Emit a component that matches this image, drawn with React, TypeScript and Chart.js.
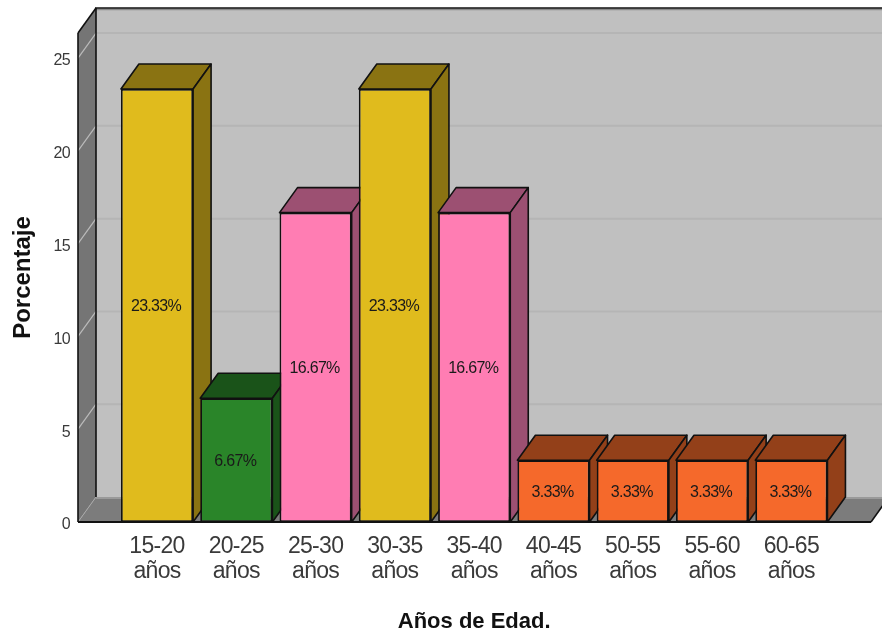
import React, { useEffect, useRef } from "react";
import { Chart, registerables } from "chart.js";

Chart.register(...registerables);

const ageGroups = [
  ["15-20", "años"],
  ["20-25", "años"],
  ["25-30", "años"],
  ["30-35", "años"],
  ["35-40", "años"],
  ["40-45", "años"],
  ["50-55", "años"],
  ["55-60", "años"],
  ["60-65", "años"],
];
const percentages = [23.33, 6.67, 16.67, 23.33, 16.67, 3.33, 3.33, 3.33, 3.33];
const faceColors = ["#E0BB1D", "#2A8529", "#FF7DB3", "#E0BB1D", "#FF7DB3", "#F5692B", "#F5692B", "#F5692B", "#F5692B"];
const shadeColors = ["#8A7312", "#1A5319", "#9C5072", "#8A7312", "#9C5072", "#934019", "#934019", "#934019", "#934019"];

// Oblique projection used for the walls and the bar depth.
const DEPTH_X = 18;
const DEPTH_Y = 25;
// Horizontal position of the chart frame, wider than the category band.
const FRAME_LEFT = 78;
const FRAME_RIGHT = 871;
const FONT = '"Liberation Sans", Arial, sans-serif';

function polygon(ctx: CanvasRenderingContext2D, pts: number[][], fill: string, stroke: string, width: number) {
  ctx.beginPath();
  pts.forEach(([x, y], i) => (i ? ctx.lineTo(x, y) : ctx.moveTo(x, y)));
  ctx.closePath();
  ctx.fillStyle = fill;
  ctx.fill();
  if (stroke) {
    ctx.strokeStyle = stroke;
    ctx.lineWidth = width;
    ctx.lineJoin = "round";
    ctx.stroke();
  }
}

function segment(ctx: CanvasRenderingContext2D, x1: number, y1: number, x2: number, y2: number, color: string, width: number) {
  ctx.beginPath();
  ctx.moveTo(x1, y1);
  ctx.lineTo(x2, y2);
  ctx.strokeStyle = color;
  ctx.lineWidth = width;
  ctx.stroke();
}

// Back wall, side wall, floor and gridlines.
const roomPlugin = {
  id: "room",
  beforeDraw(chart: any) {
    // Regular lettering is set tight; the bold axis titles keep normal spacing.
    const ctx = chart.ctx;
    if (ctx.__spacingPatched) return;
    ctx.__spacingPatched = true;
    const fillText = ctx.fillText.bind(ctx);
    ctx.fillText = (text: string, x: number, y: number, maxWidth?: number) => {
      ctx.letterSpacing = ctx.font.includes("bold") ? "0px" : "-0.7px";
      if (maxWidth === undefined) fillText(text, x, y);
      else fillText(text, x, y, maxWidth);
    };
  },
  beforeDatasetsDraw(chart: any) {
    const { ctx, chartArea, scales } = chart;
    const top = chartArea.top;
    const bottom = chartArea.bottom;
    const L = FRAME_LEFT;
    const R = FRAME_RIGHT;
    const dx = DEPTH_X;
    const dy = DEPTH_Y;
    ctx.save();
    polygon(ctx, [[L + dx, top - dy], [R + dx, top - dy], [R + dx, bottom - dy], [L + dx, bottom - dy]], "#C0C0C0", "", 0);
    polygon(ctx, [[L, top], [L + dx, top - dy], [L + dx, bottom - dy], [L, bottom]], "#757575", "", 0);
    polygon(ctx, [[L, bottom], [L + dx, bottom - dy], [R + dx, bottom - dy], [R, bottom]], "#7C7C7C", "", 0);

    for (const tick of scales.y.ticks) {
      if (tick.value === 0) {
        segment(ctx, L, bottom, L + dx, bottom - dy, "#A8A8A8", 1);
        continue;
      }
      const y = scales.y.getPixelForValue(tick.value);
      segment(ctx, L, y, L + dx, y - dy, "#BBBBBB", 1.2);
      segment(ctx, L + dx, y - dy, R + dx, y - dy, "#B5B5B5", 2);
    }

    segment(ctx, L + dx, bottom - dy + 1, R + dx, bottom - dy + 1, "#9A9A9A", 2);
    segment(ctx, L + dx, top - dy + 1.5, R + dx, top - dy + 1.5, "#8A8A8A", 1.5);
    segment(ctx, L + dx - 1, top - dy, R + dx, top - dy, "#111111", 1.6);
    segment(ctx, L, top, L + dx, top - dy, "#111111", 1.6);
    segment(ctx, L, top, L, bottom, "#111111", 1.6);
    segment(ctx, L + dx, top - dy, L + dx, bottom - dy, "#111111", 1.6);
    segment(ctx, L, bottom, R, bottom, "#111111", 1.8);
    segment(ctx, R, bottom, R + dx, bottom - dy, "#111111", 1.6);

    // Top and side faces, left to right so nearer bars cover the ones before.
    const bars = chart.getDatasetMeta(0).data;
    bars.forEach((bar: any, i: number) => {
      const half = bar.width / 2;
      const l = bar.x - half;
      const r = bar.x + half;
      const t = bar.y;
      const b = bar.base;
      polygon(ctx, [[l, t], [l + dx, t - dy], [r + dx, t - dy], [r, t]], shadeColors[i], "#111111", 1.6);
      polygon(ctx, [[r, t], [r + dx, t - dy], [r + dx, b - dy], [r, b]], shadeColors[i], "#111111", 1.6);
    });
    ctx.restore();
  },
  afterDatasetsDraw(chart: any) {
    const { ctx } = chart;
    const bars = chart.getDatasetMeta(0).data;
    ctx.save();
    ctx.font = `16px ${FONT}`;
    ctx.fillStyle = "#1A1A1A";
    ctx.textAlign = "center";
    ctx.textBaseline = "middle";
    bars.forEach((bar: any, i: number) => {
      ctx.fillText(`${percentages[i].toFixed(2)}%`, bar.x - 1, (bar.y + bar.base) / 2 + 1);
    });
    ctx.restore();
  },
};

export default function App() {
  const canvasRef = useRef<HTMLCanvasElement>(null);

  useEffect(() => {
    const chart = new Chart(canvasRef.current!, {
      type: "bar",
      data: {
        labels: ageGroups,
        datasets: [
          {
            data: percentages,
            backgroundColor: faceColors,
            borderColor: "#111111",
            borderWidth: 1.8,
            borderSkipped: false,
            barPercentage: 0.91,
            categoryPercentage: 1,
          },
        ],
      },
      options: {
        responsive: false,
        animation: false,
        layout: { padding: { top: 33, right: 51, bottom: 0, left: 0 } },
        plugins: { legend: { display: false }, title: { display: false }, tooltip: { enabled: false } },
        scales: {
          x: {
            grid: { display: false, drawTicks: false },
            border: { display: false },
            afterFit(scale: any) {
              scale.height = 115;
              scale.paddingLeft = 0;
              scale.paddingRight = 0;
            },
            ticks: {
              color: "#3A3A3A",
              font: { family: FONT, size: 23, lineHeight: 1.1 },
              padding: 12,
              maxRotation: 0,
              autoSkip: false,
            },
            title: {
              display: true,
              text: "Años de Edad.",
              color: "#111111",
              font: { family: FONT, size: 22, weight: "bold" },
              padding: { top: 0, bottom: 2 },
            },
          },
          y: {
            min: 0,
            max: 26.35,
            grid: { display: false, drawTicks: false },
            border: { display: false },
            afterFit(scale: any) {
              scale.width = 117.35;
              scale.paddingTop = 0;
              scale.paddingBottom = 0;
            },
            ticks: {
              stepSize: 5,
              includeBounds: false,
              color: "#3A3A3A",
              font: { family: FONT, size: 16 },
              padding: 47.5,
              labelOffset: 3,
            },
            title: {
              display: true,
              text: "Porcentaje",
              color: "#111111",
              font: { family: FONT, size: 24, weight: "bold" },
              padding: { top: 9, bottom: 0 },
            },
          },
        },
      },
      plugins: [roomPlugin],
    } as any);
    return () => chart.destroy();
  }, []);

  return (
    <div style={{ position: "fixed", left: 0, top: 0, width: 882, height: 637, background: "#FFFFFF", overflow: "hidden" }}>
      <canvas ref={canvasRef} width={882} height={637} style={{ display: "block" }} />
    </div>
  );
}
